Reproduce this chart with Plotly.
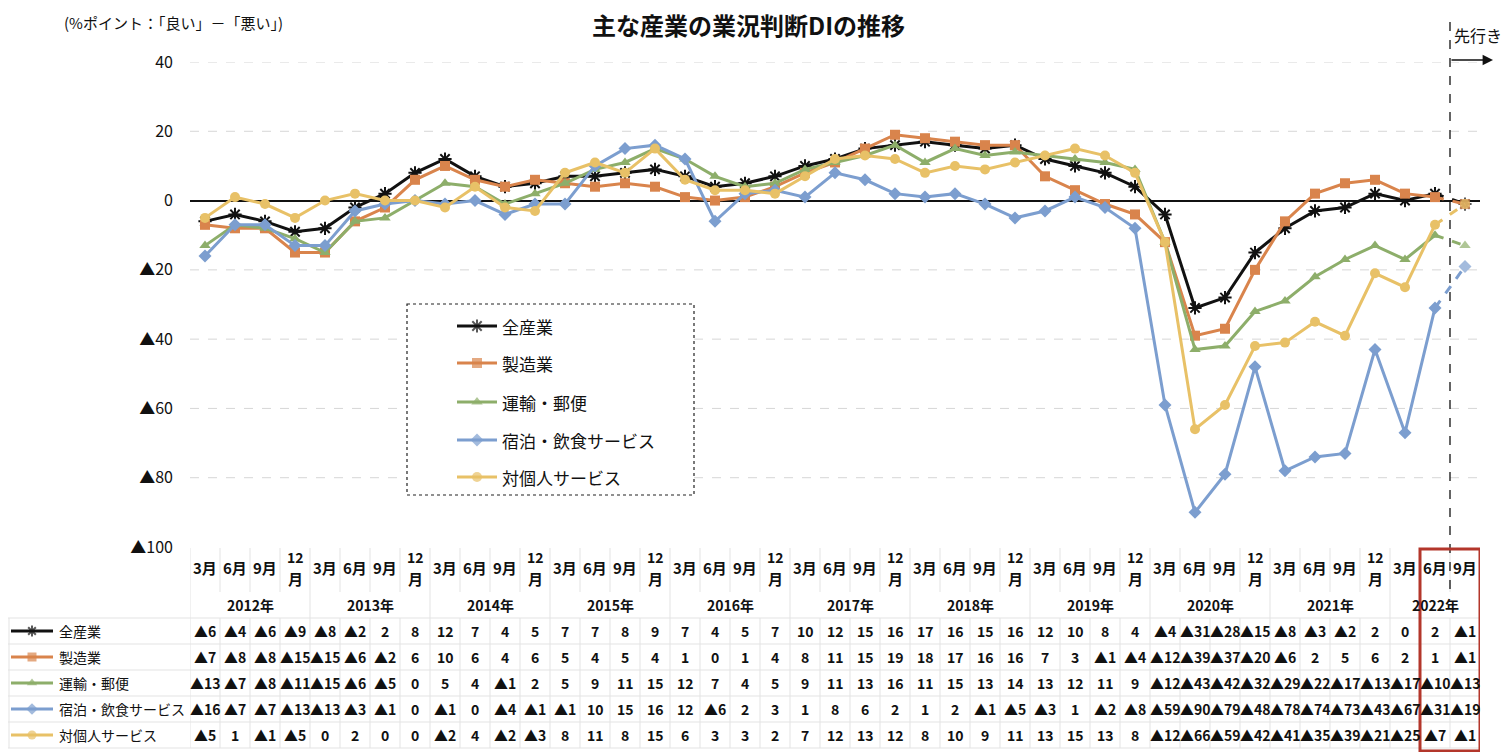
import plotly.graph_objects as go

# ---------------- data ----------------
years = ["2012年", "2013年", "2014年", "2015年", "2016年", "2017年",
         "2018年", "2019年", "2020年", "2021年", "2022年"]
months = ["3月", "6月", "9月", "12月"]
period_months = [m for y in years[:-1] for m in months] + ["3月", "6月", "9月"]

series_names = ["全産業", "製造業", "運輸・郵便", "宿泊・飲食サービス", "対個人サービス"]

all_industries = [-6, -4, -6, -9, -8, -2, 2, 8, 12, 7, 4, 5, 7, 7, 8, 9,
                  7, 4, 5, 7, 10, 12, 15, 16, 17, 16, 15, 16, 12, 10, 8, 4,
                  -4, -31, -28, -15, -8, -3, -2, 2, 0, 2, -1]
manufacturing = [-7, -8, -8, -15, -15, -6, -2, 6, 10, 6, 4, 6, 5, 4, 5, 4,
                 1, 0, 1, 4, 8, 11, 15, 19, 18, 17, 16, 16, 7, 3, -1, -4,
                 -12, -39, -37, -20, -6, 2, 5, 6, 2, 1, -1]
transport_postal = [-13, -7, -8, -11, -15, -6, -5, 0, 5, 4, -1, 2, 5, 9, 11, 15,
                    12, 7, 4, 5, 9, 11, 13, 16, 11, 15, 13, 14, 13, 12, 11, 9,
                    -12, -43, -42, -32, -29, -22, -17, -13, -17, -10, -13]
lodging_food = [-16, -7, -7, -13, -13, -3, -1, 0, -1, 0, -4, -1, -1, 10, 15, 16,
                12, -6, 2, 3, 1, 8, 6, 2, 1, 2, -1, -5, -3, 1, -2, -8,
                -59, -90, -79, -48, -78, -74, -73, -43, -67, -31, -19]
personal_services = [-5, 1, -1, -5, 0, 2, 0, 0, -2, 4, -2, -3, 8, 11, 8, 15,
                     6, 3, 3, 2, 7, 12, 13, 12, 8, 10, 9, 11, 13, 15, 13, 8,
                     -12, -66, -59, -42, -41, -35, -39, -21, -25, -7, -1]

series_values = [all_industries, manufacturing, transport_postal, lodging_food, personal_services]

y_tick_vals = [40, 20, 0, -20, -40, -60, -80, -100]
y_tick_text = ["40", "20", "0", "▲20", "▲40", "▲60", "▲80", "▲100"]

# ---------------- styles ----------------
colors = ["#111111", "#D9844C", "#8DAE6A", "#7C9ECF", "#E8C167"]
symbols = ["asterisk-open", "square", "triangle-up", "diamond", "circle"]
msizes = [11, 10, 10, 10, 10]

PAGE_OFF = 8                 # body margin of the html page
W, H = 1510 - PAGE_OFF, 752 - PAGE_OFF
X0, X1 = 190, 1480           # plot area in page pixels
YT, YB = 62, 547
n = len(period_months)
idx = list(range(n))

JP = "Noto Sans CJK JP"


def fmt(v):
    return "▲" + str(abs(v)) if v < 0 else str(v)


def marker_style(k, size):
    if symbols[k] == "asterisk-open":
        return dict(symbol=symbols[k], size=size, color=colors[k],
                    line=dict(color=colors[k], width=2))
    return dict(symbol=symbols[k], size=size, color=colors[k],
                line=dict(color=colors[k], width=0))


fig = go.Figure()

# main series
for k, vals in enumerate(series_values):
    fig.add_trace(go.Scatter(
        x=idx[:n - 1], y=vals[:n - 1], mode="lines+markers",
        line=dict(color=colors[k], width=3), marker=marker_style(k, msizes[k]),
        showlegend=False, hoverinfo="skip", xaxis="x", yaxis="y"))
    fig.add_trace(go.Scatter(
        x=idx[n - 2:], y=vals[n - 2:], mode="lines+markers",
        line=dict(color=colors[k], width=3, dash="dash"), marker=marker_style(k, [0, msizes[k]]),
        showlegend=False, hoverinfo="skip", xaxis="x", yaxis="y"))

shapes = []
annotations = []

# gridlines of main chart
for v in [40, 20, -20, -40, -60, -80]:
    shapes.append(dict(type="line", xref="x domain", yref="y", x0=0, x1=1, y0=v, y1=v,
                       line=dict(color="#d6d6d6", width=1, dash="dash"), layer="below"))

# chart legend box (page pixel coords on overlay axis)
shapes.append(dict(type="rect", xref="x2", yref="y2", x0=407, x1=694, y0=304, y1=495,
                   line=dict(color="#222222", width=1.2, dash="dot"), fillcolor="white",
                   layer="below"))
legend_rows = [326, 363, 402, 440, 477]
for k, name in enumerate(series_names):
    yc = legend_rows[k]
    fig.add_trace(go.Scatter(
        x=[457, 477, 497], y=[yc] * 3, mode="lines+markers",
        line=dict(color=colors[k], width=3), marker=marker_style(k, [0, msizes[k], 0]),
        showlegend=False, hoverinfo="skip", xaxis="x2", yaxis="y2"))
    annotations.append(dict(xref="x2", yref="y2", x=500, y=yc, text=name, showarrow=False,
                            xanchor="left", yanchor="middle",
                            font=dict(family=JP, size=17, color="#111111")))

# ---------------- table ----------------
row_y = [631, 657, 683, 709, 735]
grid_c = "#e3e3e3"
for yy in [618, 644, 670, 696, 722, 748]:
    shapes.append(dict(type="line", xref="x2", yref="y2", x0=8, x1=X1, y0=yy, y1=yy,
                       line=dict(color=grid_c, width=1)))
shapes.append(dict(type="line", xref="x2", yref="y2", x0=9, x1=9, y0=618, y1=748,
                   line=dict(color=grid_c, width=1)))
for i in range(n + 1):
    b = i - 0.5
    year_boundary = (i % 4 == 0) or i == n
    shapes.append(dict(type="line", xref="x", yref="y2", x0=b, x1=b,
                       y0=548, y1=(748 if year_boundary else 592),
                       line=dict(color=grid_c, width=1)))
    if not year_boundary:
        shapes.append(dict(type="line", xref="x", yref="y2", x0=b, x1=b, y0=618, y1=748,
                           line=dict(color=grid_c, width=1)))

# month header
for i, mth in enumerate(period_months):
    if mth == "12月":
        annotations.append(dict(xref="x", yref="y2", x=i, y=557, text="<b>12</b>", showarrow=False,
                                font=dict(family=JP, size=14, color="#111111")))
        annotations.append(dict(xref="x", yref="y2", x=i, y=578, text="<b>月</b>", showarrow=False,
                                font=dict(family=JP, size=15, color="#111111")))
    else:
        annotations.append(dict(xref="x", yref="y2", x=i, y=567, text="<b>" + mth + "</b>",
                                showarrow=False,
                                font=dict(family=JP, size=15, color="#111111")))
# year header
for j, yr in enumerate(years):
    first = 4 * j
    last = min(4 * j + 3, n - 1)
    annotations.append(dict(xref="x", yref="y2", x=(first + last) / 2, y=605, text="<b>" + yr + "</b>",
                            showarrow=False, font=dict(family=JP, size=14, color="#111111")))
# data cells
for r, vals in enumerate(series_values):
    for i, v in enumerate(vals):
        annotations.append(dict(xref="x", yref="y2", x=i, y=row_y[r], text="<b>" + fmt(v) + "</b>",
                                showarrow=False,
                                font=dict(family=JP, size=14, color="#111111")))
# table row labels with glyphs
for k, name in enumerate(series_names):
    yc = row_y[k]
    fig.add_trace(go.Scatter(
        x=[11, 32, 53], y=[yc] * 3, mode="lines+markers",
        line=dict(color=colors[k], width=3), marker=marker_style(k, [0, 9, 0]),
        showlegend=False, hoverinfo="skip", xaxis="x2", yaxis="y2"))
    annotations.append(dict(xref="x2", yref="y2", x=57, y=yc, text=name, showarrow=False,
                            xanchor="left", yanchor="middle",
                            font=dict(family=JP, size=14, color="#111111")))

# forecast marker: dashed vertical line, red box, arrow
shapes.append(dict(type="line", xref="x", yref="y2", x0=n - 1.5, x1=n - 1.5, y0=22, y1=592,
                   line=dict(color="#111111", width=1.3, dash="dash")))
shapes.append(dict(type="rect", xref="x", yref="y2", x0=n - 2.5, x1=n - 0.5, y0=549, y1=751,
                   line=dict(color="#B3362B", width=3)))
annotations.append(dict(xref="x2", yref="y2", x=1493, y=60, ax=1450, ay=60, axref="x2", ayref="y2",
                        text="", showarrow=True, arrowhead=2, arrowsize=1.3, arrowwidth=1.6,
                        arrowcolor="#111111"))
annotations.append(dict(xref="x2", yref="y2", x=1452, y=35, text="先行き", showarrow=False,
                        xanchor="left", yanchor="middle",
                        font=dict(family=JP, size=16, color="#111111")))

# titles
annotations.append(dict(xref="x2", yref="y2", x=748, y=24, text="<b>主な産業の業況判断DIの推移</b>",
                        showarrow=False, xanchor="center", yanchor="middle",
                        font=dict(family=JP, size=24, color="#111111")))
annotations.append(dict(xref="x2", yref="y2", x=62, y=22, text="(%ポイント：「良い」－「悪い」)",
                        showarrow=False, xanchor="left", yanchor="middle",
                        font=dict(family=JP, size=15, color="#111111")))

fig.update_layout(
    width=W, height=H,
    margin=dict(l=0, r=0, t=0, b=0, autoexpand=False),
    paper_bgcolor="white", plot_bgcolor="rgba(0,0,0,0)",
    showlegend=False,
    xaxis=dict(domain=[(X0 - PAGE_OFF) / W, (X1 - PAGE_OFF) / W], range=[-0.5, n - 0.5],
               showticklabels=False, showgrid=False, zeroline=False, showline=False,
               ticks="", anchor="y"),
    yaxis=dict(domain=[(752 - YB) / H, (752 - YT) / H], range=[-100, 40],
               tickvals=y_tick_vals, ticktext=y_tick_text, showgrid=False,
               zeroline=True, zerolinecolor="#111111", zerolinewidth=2,
               showline=False, ticks="", ticklabelstandoff=16,
               tickfont=dict(family=JP, size=16, color="#111111"), anchor="x"),
    xaxis2=dict(domain=[0, 1], range=[PAGE_OFF, 1510], visible=False, anchor="y2"),
    yaxis2=dict(domain=[0, 1], range=[752, PAGE_OFF], visible=False, anchor="x2"),
    shapes=shapes, annotations=annotations,
)

fig.write_html("out.html")
